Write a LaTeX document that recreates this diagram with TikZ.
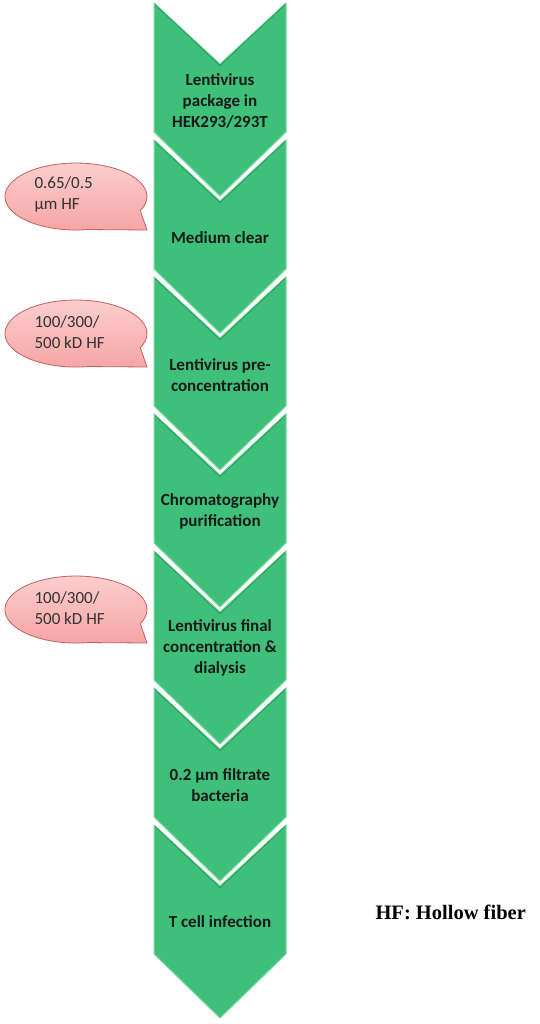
\documentclass[tikz,border=0pt]{standalone}
\usepackage{fontspec}
\setmainfont{Carlito}
\newfontfamily\legendfont{Liberation Serif}
\definecolor{chevgreen}{RGB}{62,192,122}
\definecolor{chevedge}{RGB}{120,220,160}
\definecolor{chevdark}{RGB}{40,150,90}
\definecolor{pinktop}{RGB}{252,208,208}
\definecolor{pinkbot}{RGB}{246,165,165}
\definecolor{pinkedge}{RGB}{200,95,95}
\tikzset{
  chevfill/.style={fill=chevgreen, draw=chevedge, line width=1pt, line join=miter},
  chevtext/.style={font=\bfseries\fontsize{17}{21}\selectfont, align=center, text=black!90},
  bubble/.style={top color=pinktop, bottom color=pinkbot, draw=pinkedge, line width=0.8pt},
  bubbletext/.style={font=\fontsize{17}{21}\selectfont, align=left, text=black!80, anchor=west},
}
\newcommand{\chevron}[1]{%
  \path[chevfill] (154,#1) -- (220,#1+61) -- (286,#1) -- (286,#1+129) -- (220,#1+193) -- (154,#1+129) -- cycle;
  \draw[chevdark, line width=0.8pt] (155,#1+1.5) -- (220,#1+62.5) -- (285,#1+1.5);
}
% ellipse center (76,C), rx 71, ry 33.5; coordinate angle a -> visual point (76+71cos a, C+33.5 sin a)
\newcommand{\callout}[1]{%
  \path[bubble] (147,#1+33.5) -- (140.3,#1+14.2) arc[start angle=25, end angle=-280, x radius=71, y radius=33.5] -- cycle;
}
\begin{document}
\begin{tikzpicture}[x=1pt,y=-1pt]
\useasboundingbox (0,0) rectangle (539,1024);
\fill[white] (0,0) rectangle (539,1024);
\foreach \t in {3,140,277,414,551,688,825} {\chevron{\t}}
\node[chevtext] (c1) at (220,101) {Lentivirus\\package in\\HEK293/293T};
\node[chevtext] (c2) at (220,238) {Medium clear};
\node[chevtext] (c3) at (220,375) {Lentivirus pre-\\concentration};
\node[chevtext] (c4) at (220,511) {Chromatography\\purification};
\node[chevtext] (c5) at (220,648) {Lentivirus final\\concentration \&\\dialysis};
\node[chevtext] (c6) at (220,785) {0.2 µm filtrate\\bacteria};
\node[chevtext] (c7) at (220,922) {T cell infection};
\callout{196.5}
\callout{333.5}
\callout{609.5}
\node[bubbletext] (b1) at (31,194) {0.65/0.5\\µm HF};
\node[bubbletext] (b2) at (31,332) {100/300/\\500 kD HF};
\node[bubbletext] (b3) at (31,608) {100/300/\\500 kD HF};
\node[font=\legendfont\bfseries\fontsize{20.5}{24}\selectfont, anchor=west] (leg) at (372,912) {HF: Hollow fiber};
\end{tikzpicture}
\end{document}
